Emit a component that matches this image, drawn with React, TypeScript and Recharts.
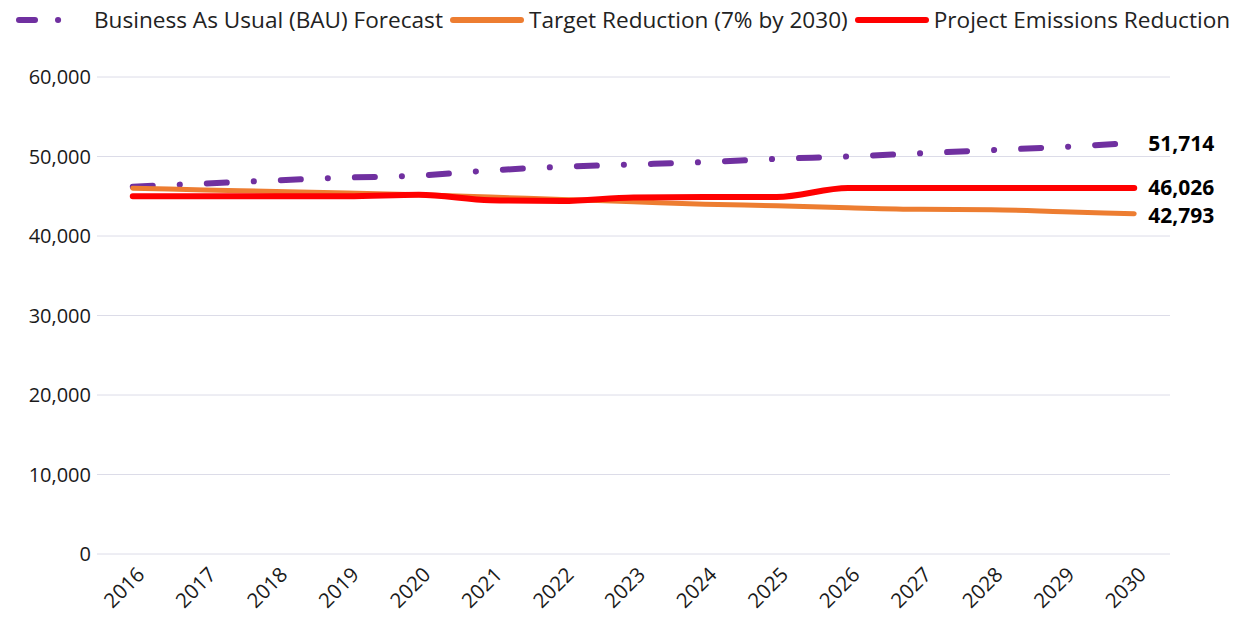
import { LineChart, Line, XAxis, YAxis, CartesianGrid, LabelList } from "recharts"

const years = [2016, 2017, 2018, 2019, 2020, 2021, 2022, 2023, 2024, 2025, 2026, 2027, 2028, 2029, 2030]
const bau = [46200, 46600, 47000, 47350, 47600, 48250, 48700, 49000, 49300, 49700, 50000, 50400, 50800, 51200, 51714]
const target = [46000, 45800, 45600, 45400, 45200, 44900, 44600, 44300, 44000, 43800, 43550, 43350, 43300, 43050, 42793]
const project = [45000, 45000, 45000, 45000, 45200, 44500, 44400, 44850, 44900, 44900, 46026, 46026, 46026, 46026, 46026]
const yTicks = [0, 10000, 20000, 30000, 40000, 50000, 60000]
const bandEdges = [2015.5, 2016.5, 2017.5, 2018.5, 2019.5, 2020.5, 2021.5, 2022.5, 2023.5, 2024.5, 2025.5, 2026.5, 2027.5, 2028.5, 2029.5, 2030.5]

const legendItems = [
  { label: "Business As Usual (BAU) Forecast", color: "#7030A0", dashed: true },
  { label: "Target Reduction (7% by 2030)", color: "#ED7D31", dashed: false },
  { label: "Project Emissions Reduction", color: "#FF0000", dashed: false },
]

const data = years.map((year, i) => ({
  year,
  bau: bau[i],
  target: target[i],
  project: project[i],
}))

const FONT = "'Open Sans', 'Noto Sans', sans-serif"
const last = years.length - 1

// value label at the right end of each line
const EndLabel = (props: any) => {
  const { x, y, index, value, shift = 0 } = props
  if (index !== last) return null
  return (
    <text x={x + 14} y={y + shift} dy={8} fontSize={21} fontWeight={700} fill="#000" fontFamily={FONT}>
      {Number(value).toLocaleString("en-US")}
    </text>
  )
}

const YearTick = (props: any) => {
  const { x, y, payload } = props
  const ax = x + 13
  const ay = y + 14
  return (
    <text
      x={ax}
      y={ay}
      transform={`rotate(-45, ${ax}, ${ay})`}
      textAnchor="end"
      fontSize={20.5}
      fill="#1a1a1a"
      fontFamily={FONT}
    >
      {payload.value}
    </text>
  )
}

function Legend() {
  return (
    <div
      style={{
        position: "absolute",
        top: 4,
        left: 14,
        display: "flex",
        alignItems: "center",
        fontFamily: FONT,
        fontSize: 22.6,
        color: "#222",
        whiteSpace: "nowrap",
      }}
    >
      {legendItems.map((item) => (
        <div key={item.label} style={{ display: "flex", alignItems: "center", marginRight: 6 }}>
          <svg width={76} height={16}>
            {item.dashed ? (
              <g stroke={item.color} strokeWidth={6} strokeLinecap="round">
                <line x1={5} y1={8} x2={21} y2={8} />
                <line x1={44} y1={8} x2={44.1} y2={8} />
              </g>
            ) : (
              <line x1={4} y1={8} x2={72} y2={8} stroke={item.color} strokeWidth={6} strokeLinecap="round" />
            )}
          </svg>
          <span style={{ marginLeft: 4 }}>{item.label}</span>
        </div>
      ))}
    </div>
  )
}

export default function App() {
  return (
    <div style={{ position: "absolute", left: 0, top: 0, width: 1238, height: 620, background: "#fff" }}>
      <Legend />
      <LineChart width={1238} height={620} data={data} margin={{ top: 77, right: 68, left: 0, bottom: 0 }}>
        <CartesianGrid vertical={false} stroke="#dcdce8" strokeWidth={1} />
        <XAxis
          xAxisId="edges"
          dataKey="year"
          type="number"
          domain={[2015.5, 2030.5]}
          ticks={bandEdges}
          tick={false}
          tickSize={8}
          height={0}
          stroke="#d9dde3"
          strokeWidth={2}
        />
        <XAxis
          xAxisId="labels"
          dataKey="year"
          type="number"
          domain={[2015.5, 2030.5]}
          ticks={years}
          tick={<YearTick />}
          tickLine={false}
          axisLine={false}
          height={66}
        />
        <YAxis
          width={97}
          domain={[0, 60000]}
          ticks={yTicks}
          axisLine={false}
          tickLine={false}
          tickMargin={0}
          tickFormatter={(v: number) => v.toLocaleString("en-US")}
          tick={{ fontSize: 20, fill: "#1a1a1a", fontFamily: FONT }}
        />
        <Line
          xAxisId="edges"
          type="monotone"
          dataKey="bau"
          stroke="#7030A0"
          strokeWidth={6}
          strokeLinecap="round"
          strokeDasharray="20 27 0.1 27"
          dot={false}
          isAnimationActive={false}
        >
          <LabelList dataKey="bau" content={<EndLabel />} />
        </Line>
        <Line
          xAxisId="edges"
          type="monotone"
          dataKey="target"
          stroke="#ED7D31"
          strokeWidth={5}
          strokeLinecap="round"
          dot={false}
          isAnimationActive={false}
        >
          <LabelList dataKey="target" content={<EndLabel shift={1} />} />
        </Line>
        <Line
          xAxisId="edges"
          type="monotone"
          dataKey="project"
          stroke="#FF0000"
          strokeWidth={6}
          strokeLinecap="round"
          dot={false}
          isAnimationActive={false}
        >
          <LabelList dataKey="project" content={<EndLabel shift={-1} />} />
        </Line>
      </LineChart>
    </div>
  )
}
